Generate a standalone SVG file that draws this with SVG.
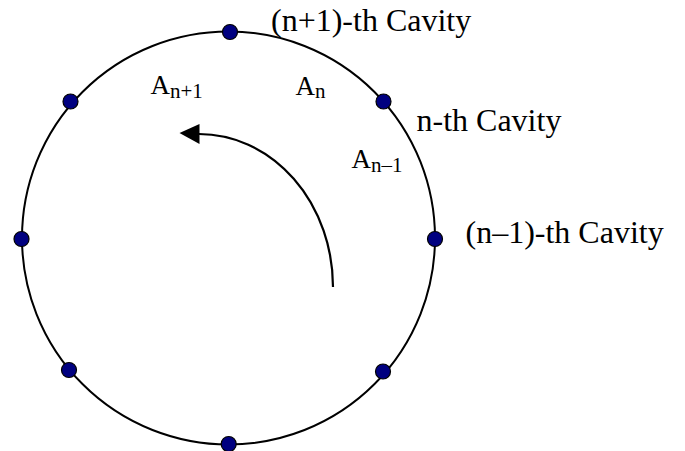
<svg xmlns="http://www.w3.org/2000/svg" width="685" height="451" viewBox="0 0 685 451">
<style>
.ring{fill:none;stroke:#000;stroke-width:2}
.dot{fill:#000080;stroke:#000;stroke-width:1.2}
.lbl{font-family:"Liberation Serif","Times New Roman",serif;font-size:32px;fill:#000}
.a{font-family:"Liberation Serif","Times New Roman",serif;font-size:27px;fill:#000}
.sub{font-size:21px}
.conn{fill:none;stroke:#000;stroke-width:2.2}
</style>
<rect width="685" height="451" fill="#fff"/>
<g id="ring"><ellipse class="ring" cx="228.5" cy="238" rx="206.5" ry="206.5"/></g>
<g id="connectors">
<path class="conn" d="M 333 287 A 134 153 0 0 0 199 134"/>
<polygon points="179.5,133 199.5,124 199.5,144" fill="#000"/>
</g>
<g id="cavity-top"><circle class="dot" cx="230" cy="32" r="7.5"/></g>
<g id="cavity-n"><circle class="dot" cx="383.5" cy="101.5" r="7.5"/></g>
<g id="cavity-n-1"><circle class="dot" cx="435" cy="239" r="7.5"/></g>
<g id="cavity-lower-right"><circle class="dot" cx="383" cy="371.5" r="7.5"/></g>
<g id="cavity-bottom"><circle class="dot" cx="228.7" cy="444" r="7.5"/></g>
<g id="cavity-lower-left"><circle class="dot" cx="69" cy="370" r="7.5"/></g>
<g id="cavity-left"><circle class="dot" cx="21.5" cy="239" r="7.5"/></g>
<g id="cavity-upper-left"><circle class="dot" cx="70.5" cy="101.5" r="7.5"/></g>
<g id="labels">
<text class="lbl" x="271" y="31">(n+1)-th Cavity</text>
<text class="lbl" x="416.5" y="131">n-th Cavity</text>
<text class="lbl" x="465.5" y="243">(n–1)-th Cavity</text>
<text class="a" x="150.5" y="93.5">A<tspan class="sub" y="97.5">n+1</tspan></text>
<text class="a" x="295.5" y="94.5">A<tspan class="sub" y="97.5">n</tspan></text>
<text class="a" x="351.5" y="167.5">A<tspan class="sub" y="171.5">n–1</tspan></text>
</g>
</svg>
